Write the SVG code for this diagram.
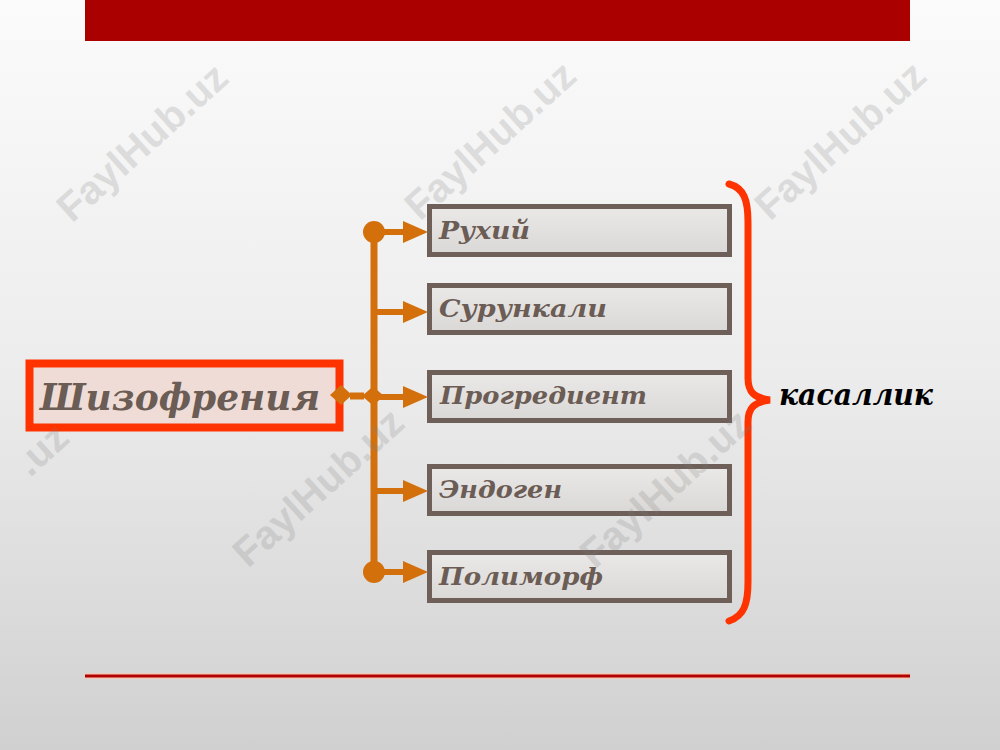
<svg xmlns="http://www.w3.org/2000/svg" width="1000" height="750" viewBox="0 0 1000 750">
<defs>
<linearGradient id="bg" x1="0" y1="0" x2="0" y2="1">
<stop offset="0" stop-color="#fbfbfb"/>
<stop offset="0.5" stop-color="#ececec"/>
<stop offset="1" stop-color="#d0d0d0"/>
</linearGradient>
<linearGradient id="boxfill" x1="0" y1="0" x2="0" y2="1">
<stop offset="0" stop-color="#ebe9e7"/>
<stop offset="1" stop-color="#dad8d6"/>
</linearGradient>
<style>
.box{fill:url(#boxfill);stroke:#6e6058;stroke-width:5}
.lbl{font-family:"DejaVu Serif","Liberation Serif",serif;font-weight:bold;font-style:italic;fill:#6b5c55;font-size:24px}
.con{stroke:#d4700c;fill:none}
.conf{fill:#d4700c}
.wm{font-family:"Liberation Sans",Arial,sans-serif;font-weight:bold;font-size:40px;fill:#7a7a7a;opacity:0.2}
</style>
</defs>
<rect x="0" y="0" width="1000" height="750" fill="url(#bg)"/>
<rect x="85" y="0" width="825" height="41" fill="#aa0000"/>
<line x1="85" y1="676" x2="910" y2="676" stroke="#f4c8b8" stroke-width="6"/>
<line x1="85" y1="676" x2="910" y2="676" stroke="#b00000" stroke-width="3"/>

<g id="root">
<rect x="29.5" y="363.5" width="310" height="64" fill="#f0dcd6" stroke="#ff3300" stroke-width="8"/>
<text class="lbl" x="40" y="410" style="font-size:37px" textLength="280" lengthAdjust="spacingAndGlyphs">Шизофрения</text>
</g>

<g id="n1">
<rect class="box" x="429.5" y="206.5" width="300" height="48"/>
<text class="lbl" x="439" y="239" textLength="91" lengthAdjust="spacingAndGlyphs">Рухий</text>
</g>
<g id="n2">
<rect class="box" x="429.5" y="285.5" width="300" height="47"/>
<text class="lbl" x="439" y="317" textLength="168" lengthAdjust="spacingAndGlyphs">Сурункали</text>
</g>
<g id="n3">
<rect class="box" x="429.5" y="372.5" width="300" height="48"/>
<text class="lbl" x="440" y="404" textLength="207" lengthAdjust="spacingAndGlyphs">Прогредиент</text>
</g>
<g id="n4">
<rect class="box" x="429.5" y="466.5" width="300" height="47"/>
<text class="lbl" x="439" y="498" textLength="123" lengthAdjust="spacingAndGlyphs">Эндоген</text>
</g>
<g id="n5">
<rect class="box" x="429.5" y="552.5" width="300" height="48"/>
<text class="lbl" x="439" y="585" textLength="164" lengthAdjust="spacingAndGlyphs">Полиморф</text>
</g>

<g id="connectors">
<line class="con" x1="374" y1="232" x2="374" y2="572" stroke-width="7"/>
<circle class="conf" cx="374" cy="232" r="11"/>
<circle class="conf" cx="374" cy="572" r="11"/>
<polygon class="conf" points="330,395 341,385 352,395 341,405"/>
<line class="con" x1="350" y1="396" x2="364" y2="396" stroke-width="7"/>
<polygon class="conf" points="362,396 373,386.5 384,396 373,405.5"/>
<g stroke-width="6">
<line class="con" x1="374" y1="232" x2="408" y2="232"/>
<line class="con" x1="374" y1="312" x2="408" y2="312"/>
<line class="con" x1="374" y1="397" x2="408" y2="397"/>
<line class="con" x1="374" y1="491" x2="408" y2="491"/>
<line class="con" x1="374" y1="572" x2="408" y2="572"/>
</g>
<polygon class="conf" points="403,221 428,232 403,243"/>
<polygon class="conf" points="403,301 428,312 403,323"/>
<polygon class="conf" points="403,386 428,397 403,408"/>
<polygon class="conf" points="403,480 428,491 403,502"/>
<polygon class="conf" points="403,561 428,572 403,583"/>
</g>

<g id="brace">
<path d="M 729 184 C 744 188, 748 200, 748 222 L 748 378 C 748 392, 754 398, 770 400 C 754 402, 748 408, 748 422 L 748 582 C 748 604, 744 616, 729 621" fill="none" stroke="#ff3300" stroke-width="7" stroke-linecap="round"/>
<text x="779" y="405" font-family="DejaVu Serif, Liberation Serif, serif" font-weight="bold" font-style="italic" font-size="30" fill="#000" textLength="154" lengthAdjust="spacingAndGlyphs">касаллик</text>
</g>

<g id="watermarks">
<text class="wm" text-anchor="middle" transform="translate(142,142) rotate(-42)" x="0" y="14">FaylHub.uz</text>
<text class="wm" text-anchor="middle" transform="translate(490,140) rotate(-42)" x="0" y="14">FaylHub.uz</text>
<text class="wm" text-anchor="middle" transform="translate(840,140) rotate(-42)" x="0" y="14">FaylHub.uz</text>
<text class="wm" transform="translate(30,478) rotate(-42)" x="0" y="0">.uz</text>
<text class="wm" text-anchor="middle" transform="translate(318,487) rotate(-42)" x="0" y="14">FaylHub.uz</text>
<text class="wm" text-anchor="middle" transform="translate(665,488) rotate(-42)" x="0" y="14">FaylHub.uz</text>
</g>
</svg>
